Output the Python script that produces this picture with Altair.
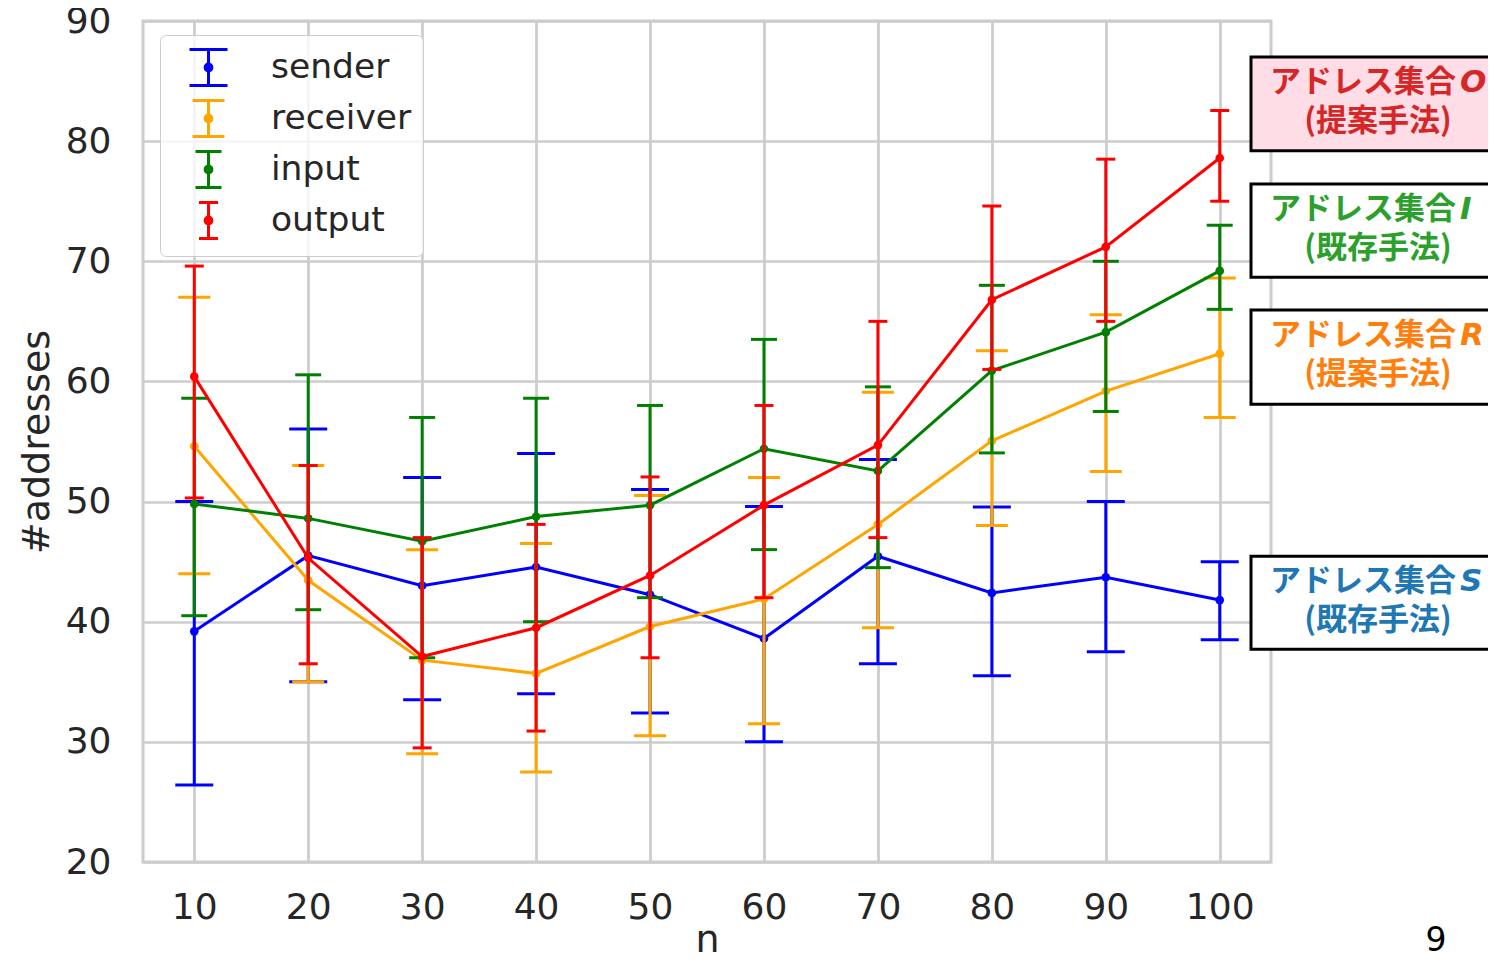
import altair as alt
import pandas as pd

# ---------------- data ----------------
n_vals = [10, 20, 30, 40, 50, 60, 70, 80, 90, 100]
series = ["sender", "receiver", "input", "output"]
colors = ["blue", "orange", "green", "red"]

sender_mean = [39.2, 45.5, 43.0, 44.55, 42.25, 38.6, 45.45, 42.4, 43.7, 41.8]
sender_hi = [50.0, 56.05, 52.0, 54.0, 51.0, 49.6, 53.5, 49.55, 50.0, 45.0]
sender_lo = [26.4, 35.0, 33.5, 34.0, 32.4, 30.0, 36.5, 35.5, 37.5, 38.5]

receiver_mean = [54.6, 43.45, 36.8, 35.7, 39.6, 41.9, 48.1, 55.05, 59.2, 62.3]
receiver_hi = [67.0, 53.0, 46.0, 46.5, 50.5, 52.0, 59.1, 62.55, 65.55, 68.6]
receiver_lo = [44.0, 35.0, 29.0, 27.5, 30.5, 31.5, 39.5, 48.0, 52.5, 57.0]

input_mean = [49.8, 48.6, 46.7, 48.75, 49.7, 54.4, 52.55, 60.9, 64.1, 69.2]
input_hi = [58.6, 60.55, 57.0, 58.6, 58.0, 63.5, 59.55, 68.0, 70.0, 73.0]
input_lo = [40.5, 41.0, 37.0, 40.0, 42.0, 46.0, 44.5, 54.05, 57.5, 66.0]

output_mean = [60.4, 45.3, 37.1, 39.5, 43.85, 49.7, 54.7, 66.8, 71.2, 78.6]
output_hi = [69.6, 53.0, 47.0, 48.1, 52.05, 58.0, 65.0, 74.6, 78.5, 82.55]
output_lo = [50.3, 36.5, 29.5, 30.9, 37.0, 42.0, 47.0, 61.0, 65.0, 75.0]

x_ticks = n_vals
y_ticks = [20, 30, 40, 50, 60, 70, 80, 90]

# annotation boxes on the right
ann_head = ["アドレス集合", "アドレス集合", "アドレス集合", "アドレス集合"]
ann_letter = ["O", "I", "R", "S"]
ann_sub = ["(提案手法)", "(既存手法)", "(提案手法)", "(既存手法)"]
ann_color = ["#d62728", "#2ca02c", "#ff7f0e", "#1f77b4"]
ann_fill = ["#ffdde6", "#ffffff", "#ffffff", "#ffffff"]
ann_top = [87.0, 76.43, 65.94, 45.45]
ann_bot = [79.2, 68.68, 58.1, 37.7]

# ---------------- tables ----------------
means = [sender_mean, receiver_mean, input_mean, output_mean]
his = [sender_hi, receiver_hi, input_hi, output_hi]
los = [sender_lo, receiver_lo, input_lo, output_lo]
rows = []
for s, m, h, l in zip(series, means, his, los):
    for i, n in enumerate(n_vals):
        rows.append({"series": s, "n": n, "mean": m[i], "hi": h[i], "lo": l[i]})
df = pd.DataFrame(rows)

ann = pd.DataFrame({
    "head": ann_head, "letter": ann_letter, "sub": ann_sub,
    "color": ann_color, "fill": ann_fill, "top": ann_top, "bot": ann_bot,
})

# ---------------- styling ----------------
FONT = "DejaVu Sans"
JFONT = "Noto Sans CJK JP"
cap_w = {"sender": 38, "receiver": 32, "input": 26, "output": 19}

xscale = alt.Scale(domain=[5.5, 104.5], nice=False, zero=False)
yscale = alt.Scale(domain=[20, 90], nice=False, zero=False)
cscale = alt.Scale(domain=series, range=colors)


def sym_path(cw):
    h = round(cw / 40.0, 3)
    dot = ("M0.07,0A0.07,0.07,0,1,1,-0.07,0A0.07,0.07,0,1,1,0.07,0"
           "M0.17,0A0.17,0.17,0,1,1,-0.17,0A0.17,0.17,0,1,1,0.17,0")
    return f"M{-h},-0.9H{h}M0,-0.9V0.9M{-h},0.9H{h}" + dot


expr = "'" + sym_path(cap_w["output"]) + "'"
for s in ["input", "receiver", "sender"]:
    expr = f"datum.value === '{s}' ? '{sym_path(cap_w[s])}' : " + expr

legend = alt.Legend(
    title=None, orient="none", legendX=17, legendY=14, padding=11,
    symbolType={"expr": expr}, symbolSize=1600, symbolStrokeWidth=3,
    symbolOffset=16, labelOffset=41, rowPadding=2,
    labelFont=FONT, labelFontSize=34.5, labelColor="#262626",
    fillColor="rgba(255,255,255,0.8)", strokeColor="#cccccc",
    cornerRadius=6, symbolOpacity=1,
)

X = alt.X("n:Q", scale=xscale,
          axis=alt.Axis(values=x_ticks, title="n", format="d"))

layers = []
for s in series:
    base = alt.Chart(df).transform_filter(alt.datum.series == s)
    col_leg = alt.Color("series:N", scale=cscale, legend=legend)
    col = alt.Color("series:N", scale=cscale, legend=None)
    w = cap_w[s] / 2
    bars = base.mark_rule(strokeWidth=3).encode(
        x=X, y=alt.Y("lo:Q", scale=yscale, axis=alt.Axis(values=y_ticks, title="#addresses")),
        y2="hi:Q", color=col_leg)
    cap_lo = base.mark_rule(strokeWidth=3, xOffset=-w, x2Offset=w).encode(
        x=X, x2="n:Q", y=alt.Y("lo:Q", scale=yscale), color=col)
    cap_hi = base.mark_rule(strokeWidth=3, xOffset=-w, x2Offset=w).encode(
        x=X, x2="n:Q", y=alt.Y("hi:Q", scale=yscale), color=col)
    line = base.mark_line(strokeWidth=3).encode(
        x=X, y=alt.Y("mean:Q", scale=yscale), color=col)
    pts = base.mark_circle(size=75, opacity=1).encode(
        x=X, y=alt.Y("mean:Q", scale=yscale), color=col)
    layers += [bars, cap_lo, cap_hi, line, pts]

abase = alt.Chart(ann).transform_calculate(mid="(datum.top + datum.bot) / 2")
boxes = abase.mark_rect(stroke="black", strokeWidth=3).encode(
    x=alt.value(1108), x2=alt.value(1420),
    y=alt.Y("top:Q", scale=yscale), y2="bot:Q",
    fill=alt.Fill("fill:N", scale=None))
head = abase.mark_text(font=JFONT, fontWeight="bold", fontSize=31, align="right",
                       baseline="middle", dy=-21).encode(
    x=alt.value(1313), y=alt.Y("mid:Q", scale=yscale), text="head:N",
    color=alt.Color("color:N", scale=None))
letter = abase.mark_text(font=FONT, fontWeight="bold", fontStyle="italic", fontSize=31,
                         align="left", baseline="middle", dy=-21).encode(
    x=alt.value(1317), y=alt.Y("mid:Q", scale=yscale), text="letter:N",
    color=alt.Color("color:N", scale=None))
sub = abase.mark_text(font=JFONT, fontWeight="bold", fontSize=31, align="center",
                      baseline="middle", dy=18).encode(
    x=alt.value(1235), y=alt.Y("mid:Q", scale=yscale), text="sub:N",
    color=alt.Color("color:N", scale=None))

page = alt.Chart(pd.DataFrame({"t": ["9"]})).mark_text(
    font=FONT, fontSize=33, align="center", baseline="alphabetic", color="black").encode(
    x=alt.value(1293), y=alt.value(930), text="t:N")

chart = alt.layer(*layers, boxes, head, letter, sub, page).properties(
    width=1128, height=841,
    autosize=alt.AutoSizeParams(type="none"),
    padding={"left": 135, "top": 13, "right": 217, "bottom": 98},
).configure_view(
    stroke="#cccccc", strokeWidth=3
).configure_axis(
    domain=False, ticks=False, grid=True, gridColor="#cccccc", gridWidth=2.7,
    labelFont=FONT, labelFontSize=36, labelColor="#262626",
    titleFont=FONT, titleFontSize=38, titleFontWeight="normal", titleColor="#262626",
).configure_axisX(
    labelPadding=28, titleBaseline="alphabetic", titleY=89,
).configure_axisY(
    labelPadding=32, titlePadding=9,
)

chart.save("out.html", embed_options={"renderer": "svg", "actions": False})
